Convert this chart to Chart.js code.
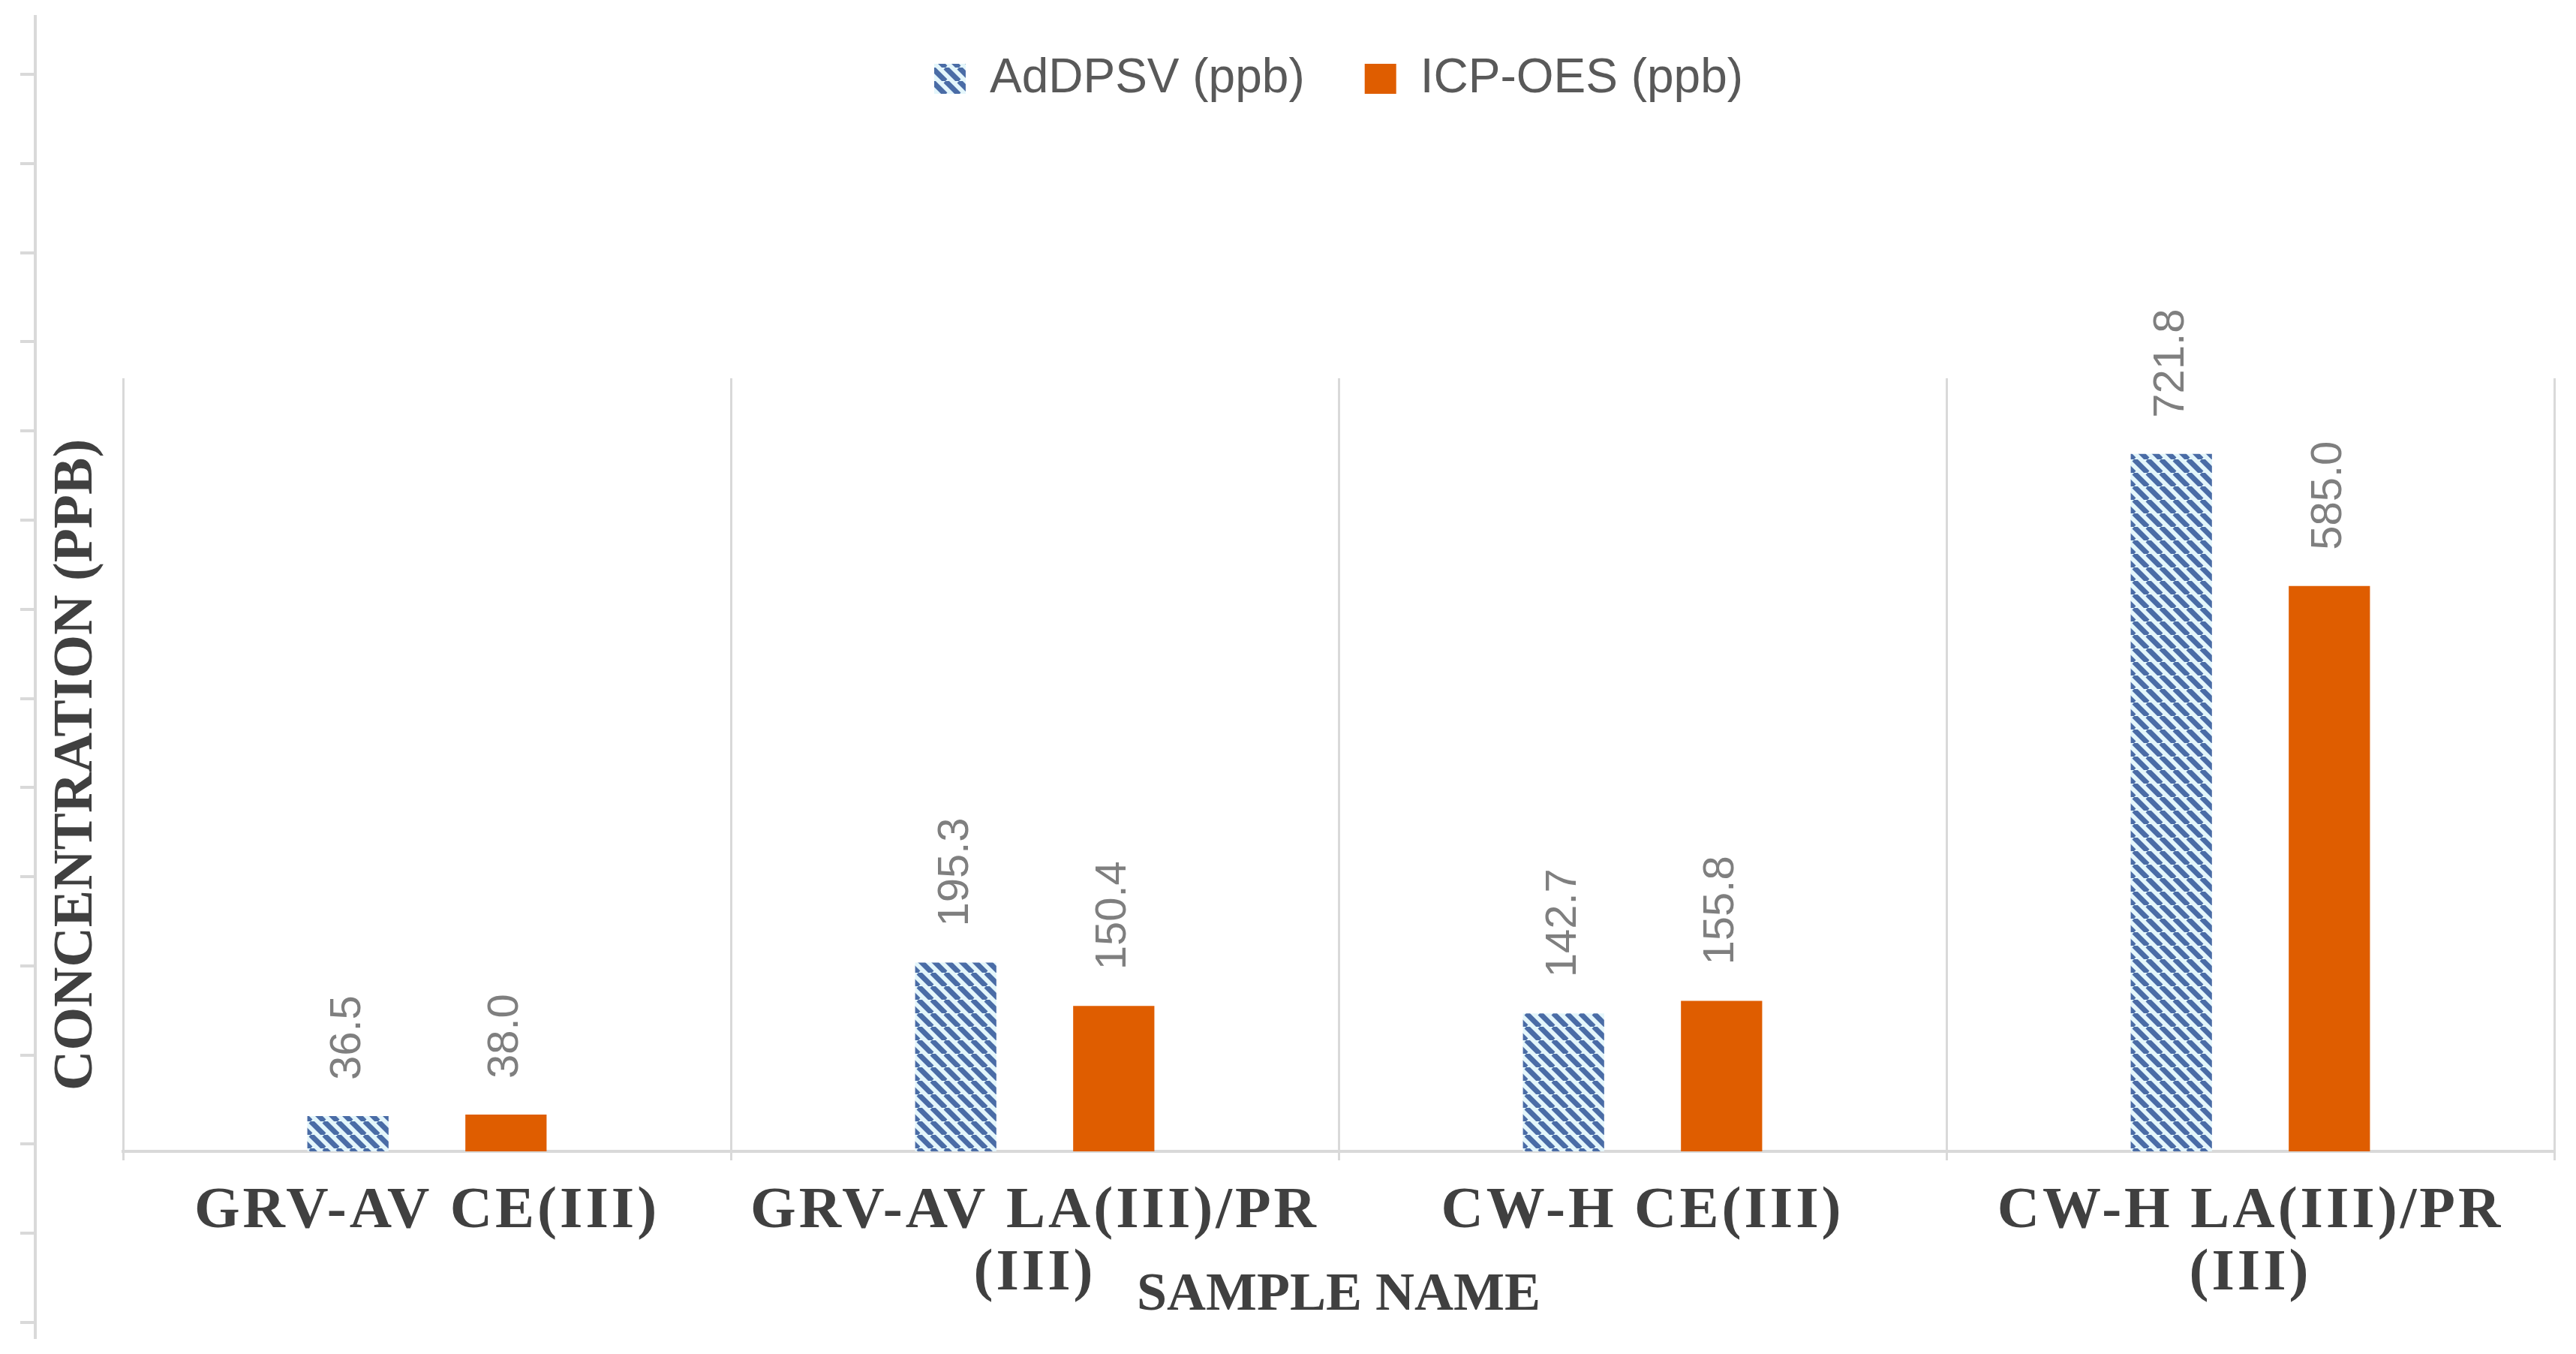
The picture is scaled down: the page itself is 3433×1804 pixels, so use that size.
<!DOCTYPE html>
<html>
<head>
<meta charset="utf-8">
<title>Concentration by sample</title>
<script src="https://cdn.jsdelivr.net/npm/chart.js@4"></script>
<style>
    html, body { margin: 0; padding: 0; background: #fff; }
    #wrap { position: relative; width: 3433px; height: 1804px; }
    #wrap canvas { position: absolute; left: 0; top: 0; }
</style>
</head>
<body>
<div id="wrap">
    <canvas id="frame-axis" width="3433" height="1804"></canvas>
    <canvas id="main-chart" width="3433" height="1804"></canvas>
</div>
<script>
// --- data ---
const sampleNames = [
    'GRV-AV CE(III)',
    ['GRV-AV LA(III)/PR', '(III)'],
    'CW-H CE(III)',
    ['CW-H LA(III)/PR', '(III)']
];
const adDpsvValues = [36.5, 195.3, 142.7, 721.8];
const icpOesValues = [38.0, 150.4, 155.8, 585.0];
const seriesNames = ['AdDPSV (ppb)', 'ICP-OES (ppb)'];
const yRange = [0, 800];

// the stray outer axis on the left edge (ticks only, no labels)
const frameAxisRange = [-0.17, 14.65];

const serif = '"Liberation Serif", "Times New Roman", serif';
const sans = '"Liberation Sans", Arial, sans-serif';
const gridGrey = '#d9d9d9';
const darkText = '#404040';

// diagonal hatch for the AdDPSV bars
function makeHatch() {
    const size = 18;
    const tile = document.createElement('canvas');
    tile.width = tile.height = size;
    const c = tile.getContext('2d');
    c.fillStyle = '#e4f6fb';
    c.fillRect(0, 0, size, size);
    c.strokeStyle = '#4a6ca6';
    c.lineWidth = 7;
    c.beginPath();
    for (let k = -1; k <= 1; k++) {
        c.moveTo(k * size, 0);
        c.lineTo(k * size + size, size);
    }
    c.stroke();
    return c.createPattern(tile, 'repeat');
}

// vertical value labels above each bar, then widen the spacing
// for the category labels (they are drawn after the datasets, z: 1)
const barValueLabels = {
    id: 'barValueLabels',
    afterDatasetsDraw(chart) {
        const ctx = chart.ctx;
        ctx.save();
        ctx.font = '58px ' + sans;
        ctx.fillStyle = '#7f7f7f';
        ctx.textAlign = 'left';
        ctx.textBaseline = 'middle';
        chart.data.datasets.forEach((ds, di) => {
            chart.getDatasetMeta(di).data.forEach((bar, i) => {
                ctx.save();
                ctx.translate(bar.x, bar.y - 48);
                ctx.rotate(-Math.PI / 2);
                ctx.fillText(ds.data[i].toFixed(1), 0, 0);
                ctx.restore();
            });
        });
        ctx.restore();
        ctx.letterSpacing = '4px';
    },
    afterDraw(chart) {
        chart.ctx.letterSpacing = '0px';
    }
};

// outer frame axis (drawn underneath)
new Chart(document.getElementById('frame-axis'), {
    type: 'line',
    data: { datasets: [] },
    options: {
        responsive: false,
        animation: false,
        events: [],
        layout: { padding: { top: 22, bottom: 22, left: 27, right: 0 } },
        plugins: { legend: { display: false }, tooltip: { enabled: false } },
        scales: {
            x: { type: 'linear', display: false },
            y: {
                min: frameAxisRange[0],
                max: frameAxisRange[1],
                ticks: { display: false, stepSize: 1, includeBounds: false },
                grid: { drawOnChartArea: false, color: gridGrey, lineWidth: 4, tickLength: 20 },
                border: { color: gridGrey, width: 4 }
            }
        }
    }
});

// main bar chart
new Chart(document.getElementById('main-chart'), {
    type: 'bar',
    data: {
        labels: sampleNames,
        datasets: [
            {
                label: seriesNames[0],
                data: adDpsvValues,
                backgroundColor: makeHatch(),
                borderWidth: 0,
                categoryPercentage: 0.52,
                barPercentage: 0.514,
                xAxisID: 'x',
                yAxisID: 'y'
            },
            {
                label: seriesNames[1],
                data: icpOesValues,
                backgroundColor: '#df5d00',
                borderWidth: 0,
                categoryPercentage: 0.52,
                barPercentage: 0.514,
                xAxisID: 'x',
                yAxisID: 'y'
            }
        ]
    },
    options: {
        responsive: false,
        animation: false,
        events: [],
        layout: { padding: { left: 0, right: 29, top: -7, bottom: 0 } },
        plugins: {
            tooltip: { enabled: false },
            legend: {
                position: 'top',
                fullSize: false,
                labels: {
                    font: { family: sans, size: 64 },
                    color: '#595959',
                    boxWidth: 42,
                    boxHeight: 40,
                    padding: 80
                }
            }
        },
        scales: {
            x: {
                grid: { offset: true, color: gridGrey, lineWidth: 3, tickLength: 12 },
                border: { color: gridGrey, width: 4 },
                ticks: {
                    font: { family: serif, size: 78, weight: 'bold', lineHeight: 1.07 },
                    color: darkText,
                    padding: 27,
                    maxRotation: 0,
                    autoSkip: false,
                    z: 1
                },
                title: {
                    display: true,
                    text: 'SAMPLE NAME',
                    font: { family: serif, size: 72, weight: 'bold', lineHeight: 1 },
                    color: darkText,
                    padding: { top: 0, bottom: 42 }
                },
                afterFit: s => { s.height = 270; }
            },
            gap: {
                type: 'category',
                position: 'top',
                grid: { display: false },
                ticks: { display: false },
                border: { display: false },
                afterFit: s => { s.height = 357; }
            },
            y: {
                min: yRange[0],
                max: yRange[1],
                ticks: { display: false },
                grid: { display: false },
                border: { display: false },
                title: {
                    display: true,
                    text: 'CONCENTRATION (PPB)',
                    font: { family: serif, size: 74, weight: 'bold', lineHeight: 1 },
                    color: darkText,
                    padding: { top: 66, bottom: 0 }
                },
                afterFit: s => { s.width = 164; }
            }
        }
    },
    plugins: [barValueLabels]
});
</script>
</body>
</html>
